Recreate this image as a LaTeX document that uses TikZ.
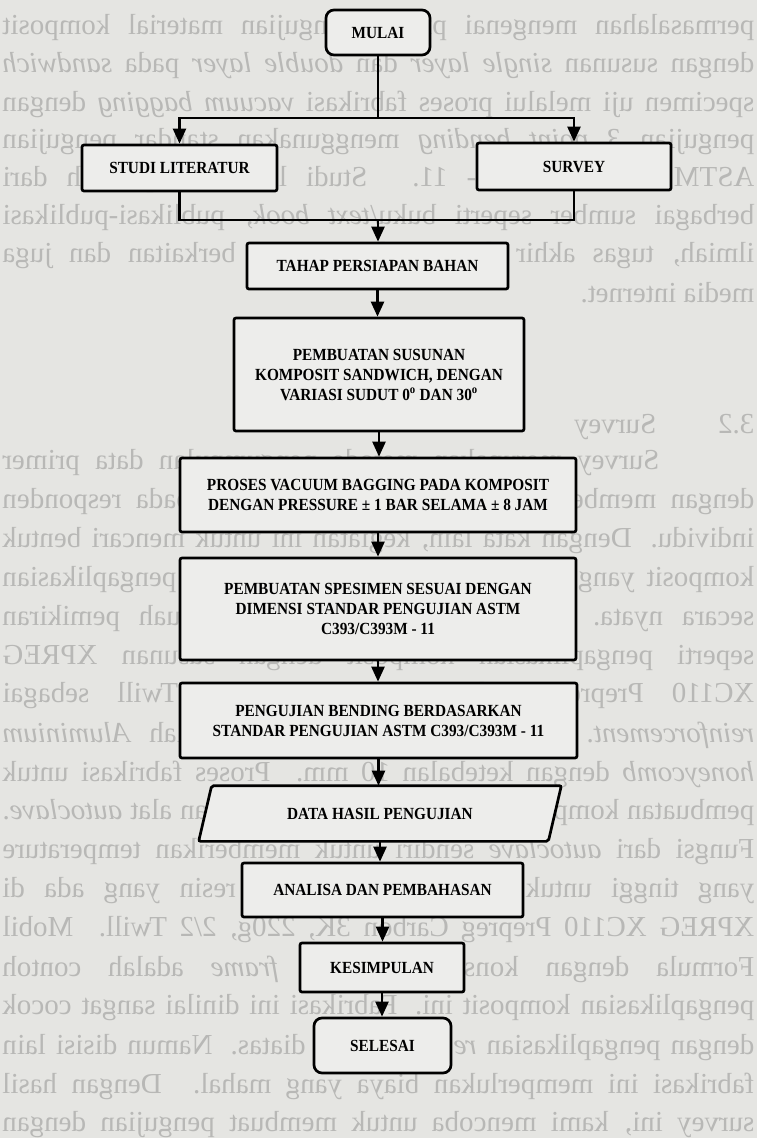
\documentclass[tikz,border=0pt]{standalone}
\usepackage{fontspec}
\usepackage{graphicx}
\setmainfont{Liberation Serif}
\newfontfamily\boxfont[FakeStretch=0.9]{Liberation Serif}
\usetikzlibrary{arrows.meta,calc}
\definecolor{paper}{RGB}{229,229,226}
\definecolor{ghost}{RGB}{184,184,182}
\definecolor{boxfill}{RGB}{237,237,235}
\newcommand\ghostj[2]{\node[ghosttext] at (378.5,#1) {\reflectbox{\makebox[752pt][s]{#2}}};}
\newcommand\ghostl[2]{\node[ghosttext] at (378.5,#1) {\reflectbox{\makebox[752pt][l]{#2}}};}
\tikzset{
  ghosttext/.style={inner sep=0pt, text=ghost, font=\fontsize{29}{33}\selectfont},
  box/.style={draw=black, line width=2.7pt, fill=boxfill, rounded corners=2pt, inner sep=0pt,
    align=center, font=\boxfont\bfseries\fontsize{17}{20}\selectfont},
  term/.style={box, rounded corners=8pt},
  ln/.style={line width=2.4pt},
  arr/.style={line width=2.4pt, -{Triangle[width=13pt,length=15pt]}}
}
\begin{document}
\begin{tikzpicture}[x=1pt,y=-1pt]
\fill[paper] (0,0) rectangle (757,1138);
\useasboundingbox (0,0) rectangle (757,1138);
% show-through text of the reverse page (mirrored)
\ghostj{28}{permasalahan mengenai proses pengujian material komposit}
\ghostj{66}{dengan susunan \textit{single layer} dan \textit{double layer} pada \textit{sandwich}}
\ghostj{104}{specimen uji melalui proses fabrikasi \textit{vacuum bagging} dengan}
\ghostj{142}{pengujian \textit{3 point bending} menggunakan standar pengujian}
\ghostj{180}{ASTM C393/C393M - 11. Studi literatur diperoleh dari}
\ghostj{218}{berbagai sumber seperti buku/\textit{text book}, publikasi-publikasi}
\ghostj{256}{ilmiah, tugas akhir dan penelitian yang berkaitan dan juga}
\ghostl{293}{media internet.}
\ghostl{427}{3.2\hspace{62pt}Survey}
\ghostj{463}{\hspace*{95pt}Survey merupakan metode pengumpulan data primer}
\ghostj{502}{dengan memberikan pertanyaan-pertanyaan kepada responden}
\ghostj{541}{individu. Dengan kata lain, kegiatan ini untuk mencari bentuk}
\ghostj{580}{komposit yang berkaitan dengan segala bentuk pengaplikasian}
\ghostj{619}{secara nyata. Kegiatan ini menghasilkan buah pemikiran}
\ghostj{658}{seperti pengaplikasian komposit dengan susunan XPREG}
\ghostj{696}{XC110 Prepreg Carbon 3K, 220g, 2/2 Twill sebagai}
\ghostj{735}{\textit{reinforcement}. Matrix yang digunakan adalah \textit{Aluminium}}
\ghostj{774}{\textit{honeycomb} dengan ketebalan 10 mm. Proses fabrikasi untuk}
\ghostj{813}{pembuatan komposit ini dilakukan menggunakan alat \textit{autoclave}.}
\ghostj{852}{Fungsi dari \textit{autoclave} sendiri untuk memberikan temperature}
\ghostj{891}{yang tinggi untuk mematangkan bahan resin yang ada di}
\ghostj{930}{XPREG XC110 Prepreg Carbon 3K, 220g, 2/2 Twill. Mobil}
\ghostj{969}{Formula dengan konstruksi \textit{space frame} adalah contoh}
\ghostj{1008}{pengaplikasian komposit ini. Fabrikasi ini dinilai sangat cocok}
\ghostj{1047}{dengan pengaplikasian \textit{reinforcement} diatas. Namun disisi lain}
\ghostj{1086}{fabrikasi ini memperlukan biaya yang mahal. Dengan hasil}
\ghostj{1125}{survey ini, kami mencoba untuk membuat pengujian dengan}

% flowchart nodes
\node[term, minimum width=104pt, minimum height=45pt] (mulai) at (378,32.5) {MULAI};
\node[box, minimum width=195pt, minimum height=46pt] (studi) at (179.5,168) {STUDI LITERATUR};
\node[box, minimum width=194pt, minimum height=47pt] (survey) at (574,166.5) {SURVEY};
\node[box, minimum width=261pt, minimum height=46pt] (tahap) at (377.5,266) {TAHAP PERSIAPAN BAHAN};
\node[box, minimum width=290pt, minimum height=113pt] (susunan) at (379,374.5)
  {PEMBUATAN SUSUNAN\\KOMPOSIT SANDWICH, DENGAN\\VARIASI SUDUT 0\textsuperscript{o} DAN 30\textsuperscript{o}};
\node[box, minimum width=396pt, minimum height=74pt] (proses) at (378,495)
  {PROSES VACUUM BAGGING PADA KOMPOSIT\\DENGAN PRESSURE ± 1 BAR SELAMA ± 8 JAM};
\node[box, minimum width=396pt, minimum height=102pt] (spesimen) at (378,609)
  {PEMBUATAN SPESIMEN SESUAI DENGAN\\DIMENSI STANDAR PENGUJIAN ASTM\\C393/C393M - 11};
\node[box, minimum width=397pt, minimum height=75pt] (uji) at (378.5,720.5)
  {PENGUJIAN BENDING BERDASARKAN\\STANDAR PENGUJIAN ASTM C393/C393M - 11};
\node[box, draw=none, fill=none, minimum width=347pt, minimum height=53pt] (data) at (380,813.5) {};
\draw[box] ([xshift=6.5pt]data.north west) -- ([xshift=6.5pt]data.north east)
  -- ([xshift=-6.5pt]data.south east) -- ([xshift=-6.5pt]data.south west) -- cycle;
\node[box, draw=none, fill=none] at (data.center) {DATA HASIL PENGUJIAN};
\node[box, minimum width=281pt, minimum height=54pt] (analisa) at (382.5,890) {ANALISA DAN PEMBAHASAN};
\node[box, minimum width=164pt, minimum height=49pt] (kesimpulan) at (382,967.5) {KESIMPULAN};
\node[term, minimum width=137pt, minimum height=55pt] (selesai) at (382.5,1045.5) {SELESAI};

% connectors
\coordinate (br) at (378,118);
\coordinate (jn) at (378,220);
\draw[ln] (mulai.south) -- (br);
\draw[arr] (br) -| (studi.north);
\draw[arr] (br) -| (survey.north);
\draw[ln] (studi.south) |- (jn);
\draw[ln] (survey.south) |- (jn);
\draw[arr] (jn) -- (jn |- tahap.north);
\draw[arr] (tahap.south) -- (tahap.south |- susunan.north);
\draw[arr] (susunan.south) -- (susunan.south |- proses.north);
\draw[arr] (proses.south) -- (proses.south |- spesimen.north);
\draw[arr] (spesimen.south) -- (spesimen.south |- uji.north);
\draw[arr] (uji.south) -- (uji.south |- data.north);
\draw[arr] (data.south) -- (data.south |- analisa.north);
\draw[arr] (analisa.south) -- (analisa.south |- kesimpulan.north);
\draw[arr] (kesimpulan.south) -- (kesimpulan.south |- selesai.north);
\end{tikzpicture}
\end{document}
